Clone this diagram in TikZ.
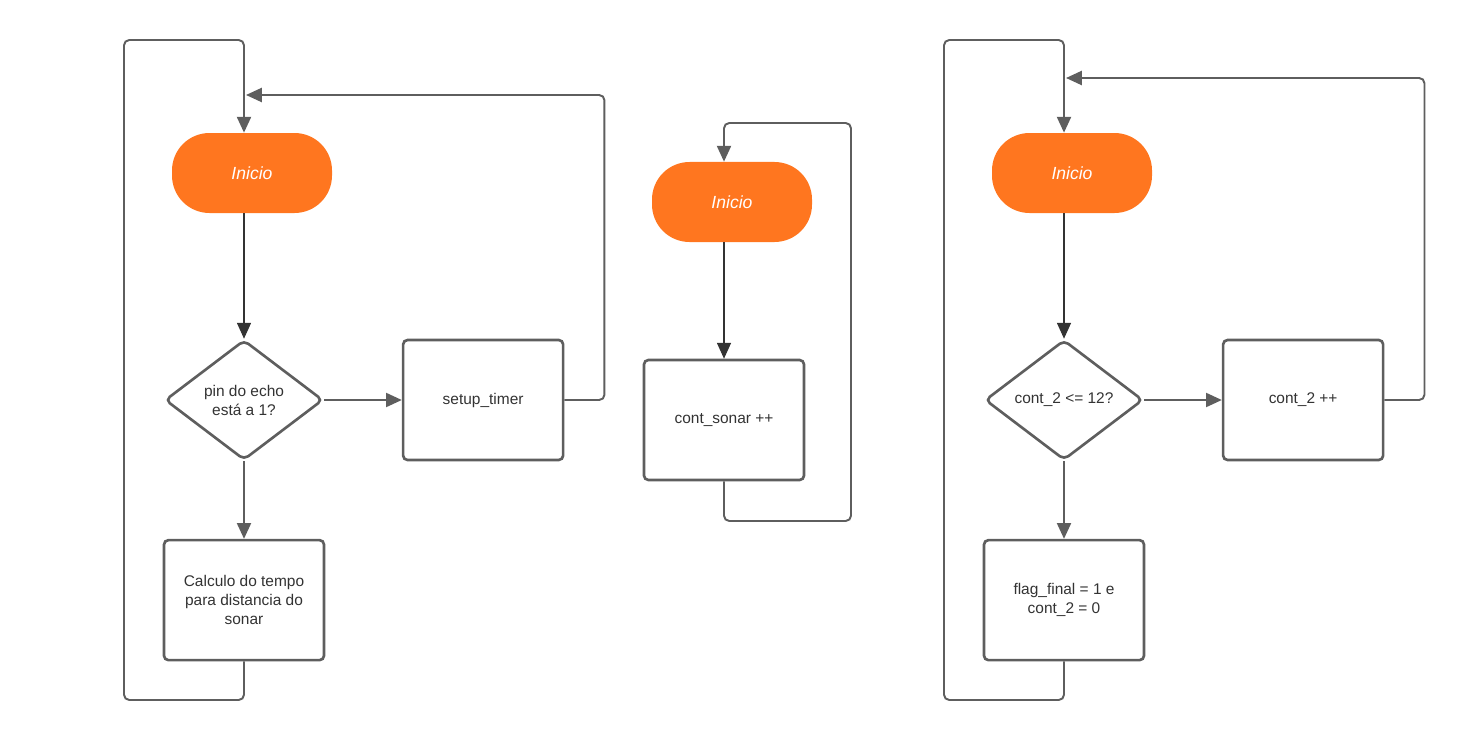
\documentclass[tikz,border=0pt]{standalone}
\usepackage{fontspec}
\setmainfont{Liberation Sans}
\usepackage{xcolor}
\usepackage{tikz}
\usetikzlibrary{positioning,arrows.meta,shapes.geometric}

\definecolor{inicioorange}{HTML}{FF761F}
\definecolor{linegray}{HTML}{5E5E5E}
\definecolor{textgray}{HTML}{333333}

\begin{document}
\begin{tikzpicture}[node distance=1.55cm, >={Triangle[length=9pt,width=8pt]}, font=\fontsize{8.8}{10.8}\selectfont, text=textgray]
\tikzstyle{inicio}=[fill=inicioorange, rounded corners=0.75cm, minimum width=3.2cm, minimum height=1.6cm, text=white, font=\fontsize{10}{12}\selectfont\itshape]
\tikzstyle{box}=[draw=linegray, line width=1.5pt, rounded corners=2.5pt, align=center, minimum width=3.2cm, minimum height=2.4cm, fill=white]
\tikzstyle{decision}=[diamond, draw=linegray, line width=1.5pt, rounded corners=3pt, align=center, inner sep=0pt, minimum width=3.16cm, minimum height=2.4cm, fill=white]
\tikzstyle{flow}=[->, draw=textgray, line width=0.6pt]
\tikzstyle{loop}=[draw=linegray, line width=1.1pt, rounded corners=3pt]

\useasboundingbox (0,0) rectangle (29.3,-14.84);

% sonar
\node[inicio] (ini1) at (5.04,-3.46) {Inicio};
\node[decision] (echo) at (4.88,-8.0) {pin do echo\\está a 1?};
\node[box, right=of echo] (timer) {setup\_timer};
\node[box, below=of echo] (calc) {Calculo do tempo\\para distancia do\\sonar};
\coordinate (top1) at (4.88,-0.8);
\coordinate (back1) at (4.92,-1.9);

\draw[flow] (ini1.south -| echo.north) -- (echo.north);
\draw[loop, ->] (echo.east) -- (timer.west);
\draw[loop, ->] (echo.south) -- (calc.north);
\draw[loop, ->] (timer.east) -- ++(0.8,0) |- (back1);
\draw[loop, ->] (calc.south) |- (2.48,-14.0) |- (top1) -- (top1 |- ini1.north);

% contador do sonar
\node[inicio] (ini2) at (14.64,-4.04) {Inicio};
\node[box] (sonar) at (14.48,-8.4) {cont\_sonar ++};
\coordinate (top2) at (14.48,-2.46);

\draw[flow] (ini2.south -| sonar.north) -- (sonar.north);
\draw[loop, ->] (sonar.south) |- (17.02,-10.42) |- (top2) -- (top2 |- ini2.north);

% contador 2
\node[inicio] (ini3) at (21.44,-3.46) {Inicio};
\node[decision] (test) at (21.28,-8.0) {cont\_2 <= 12?};
\node[box, right=of test] (cont) {cont\_2 ++};
\node[box, below=of test] (flag) {flag\_final = 1 e\\cont\_2 = 0};
\coordinate (top3) at (21.28,-0.8);
\coordinate (back3) at (21.32,-1.56);

\draw[flow] (ini3.south -| test.north) -- (test.north);
\draw[loop, ->] (test.east) -- (cont.west);
\draw[loop, ->] (test.south) -- (flag.north);
\draw[loop, ->] (cont.east) -- ++(0.8,0) |- (back3);
\draw[loop, ->] (flag.south) |- (18.88,-14.0) |- (top3) -- (top3 |- ini3.north);
\end{tikzpicture}
\end{document}
